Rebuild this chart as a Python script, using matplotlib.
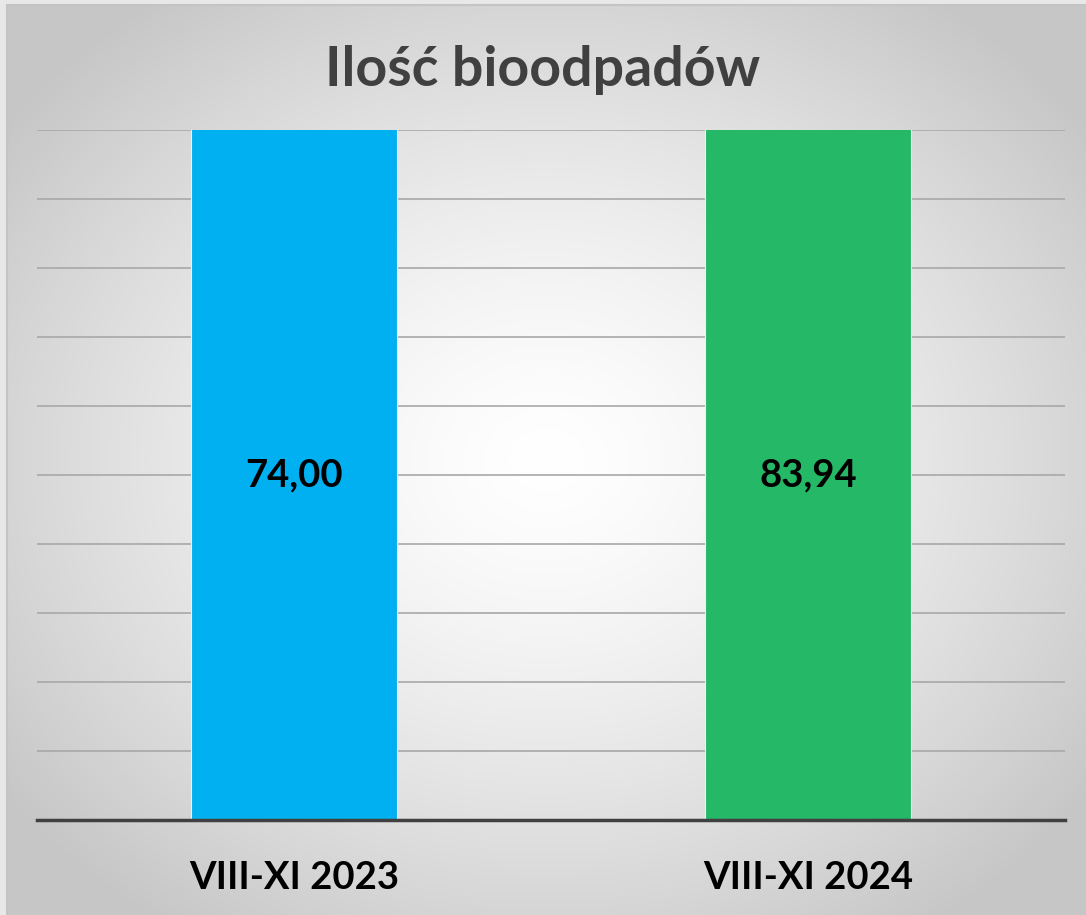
import numpy as np
import matplotlib
matplotlib.use("Agg")
import matplotlib.pyplot as plt

categories = ["VIII-XI 2023", "VIII-XI 2024"]
values = [74.00, 83.94]
value_labels = ["74,00", "83,94"]
bar_colors = ["#00b0f0", "#25b866"]
title = "Ilość bioodpadów"
y_max = 70
y_step = 7

W, H = 1086, 915
fig = plt.figure(figsize=(W / 100, H / 100), dpi=100)
fig.patch.set_facecolor("#e8e8e8")

# background radial gradient
bg = fig.add_axes([7 / W, 0, 1 - 7 / W, 1 - 5 / H], zorder=-10)
yy, xx = np.mgrid[0:1:400j, 0:1:400j]
r = np.sqrt(((xx - 0.5) / 0.62) ** 2 + ((yy - 0.5) / 0.62) ** 2)
r = np.clip(r, 0, 1)
g = 1.0 - 0.22 * r ** 1.4
img = np.dstack([g, g, g])
bg.imshow(img, extent=[0, 1, 0, 1], aspect="auto", origin="lower")
bg.set_xlim(0, 1)
bg.set_ylim(0, 1)
bg.set_xticks([])
bg.set_yticks([])
for s in bg.spines.values():
    s.set_color("#c4c4c4")
    s.set_linewidth(1.5)
bg.spines["right"].set_visible(False)
bg.spines["bottom"].set_visible(False)

ax = fig.add_axes([37 / W, (H - 820) / H, (1065 - 37) / W, (820 - 130) / H])
ax.patch.set_alpha(0)
x = np.arange(len(categories))
ax.set_xlim(-0.5, len(categories) - 0.5)
ax.set_ylim(0, y_max)
ax.set_yticks(np.arange(0, y_max + y_step / 2, y_step))
ax.yaxis.grid(True, color="#a8a8a8", linewidth=1.2, zorder=0)
ax.set_axisbelow(True)
bars = ax.bar(x, values, width=0.4, color=bar_colors, edgecolor="#e8f4f0",
              linewidth=0.8, zorder=2)
for b in bars:
    b.set_clip_on(True)
ax.tick_params(left=False, labelleft=False, bottom=False)
ax.set_xticks(x)
ax.set_xticklabels(categories, fontsize=27.5, fontweight="bold", family="Lato", color="#000000")
ax.tick_params(axis="x", pad=26)
for s in ["top", "right", "left"]:
    ax.spines[s].set_visible(False)
ax.spines["bottom"].set_color("#404040")
ax.spines["bottom"].set_linewidth(2.5)
ax.spines["bottom"].set_zorder(3)

for xi, v, lab in zip(x, values, value_labels):
    ax.text(xi, min(v, y_max) / 2, lab, ha="center", va="center",
            fontsize=27.5, fontweight="bold", family="Lato", color="#000000", zorder=4)

fig.text(0.5, 1 - 70 / H, title, ha="center", va="center", fontsize=40,
         fontweight="bold", family="Lato", color="#404040")

fig.savefig("out.png", dpi=100)
